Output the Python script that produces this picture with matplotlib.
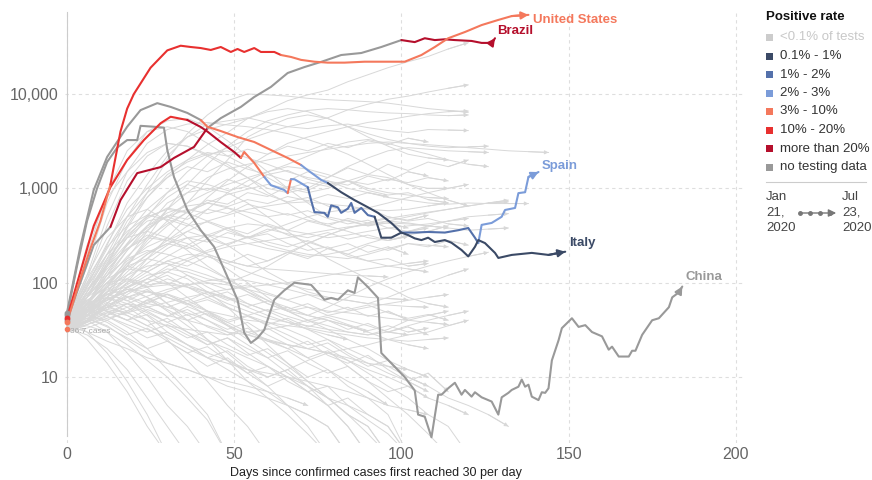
import matplotlib
matplotlib.use('Agg')
import matplotlib.pyplot as plt
from matplotlib.patches import Rectangle, FancyArrowPatch
from matplotlib.lines import Line2D
from matplotlib.ticker import FixedLocator, FuncFormatter, NullLocator

plt.rcParams['font.family'] = ['Liberation Sans', 'DejaVu Sans']

# legend categories
rate_labels = ['<0.1% of tests', '0.1% - 1%', '1% - 2%', '2% - 3%', '3% - 10%',
               '10% - 20%', 'more than 20%', 'no testing data']
rate_colors = ['#cccccc', '#3b4a66', '#5471ab', '#7b9cd9', '#f4785c',
               '#e8302f', '#b50f2c', '#999999']
rate_color = dict(zip(rate_labels, rate_colors))

# background countries, daily cases sampled every 6 days from day 0
bg_step = 6
bg_upper = [
    [32, 70, 180, 450, 800, 1300, 2000, 2900, 3900, 5500, 6800, 8500, 9800, 11000, 13500, 16000, 19000, 22000, 25000, 30000, 35000],
    [35, 60, 120, 260, 500, 900, 1500, 2200, 2700, 3300, 3900, 4500, 5000, 5600, 6800, 7800, 8800, 9500, 10500, 11500, 12500],
    [30, 55, 150, 400, 900, 2000, 3800, 6000, 8500, 10000, 9800, 9500, 9000, 8700, 8500, 8300, 8000, 7500, 7000, 6700, 6400],
    [38, 80, 200, 500, 1100, 2200, 3500, 4800, 5200, 5600, 5000, 4500, 4300, 4600, 4800, 4400, 4100, 3900, 4200, 4150, 4100],
    [40, 120, 500, 1500, 3000, 4200, 4800, 5000, 4700, 4500, 4200, 3800, 3300, 2800, 2300, 1800, 1400, 1100, 900, 750, 650],
    [33, 50, 90, 180, 350, 600, 900, 1300, 1600, 1800, 2000, 2200, 2400, 2600, 2800, 3000, 3100, 3000, 2900, 2800, 2700, 2600, 2500, 2450, 2400],
    [36, 90, 250, 700, 1400, 2500, 3500, 4200, 4800, 5500, 6500, 7000, 6500, 5500, 4500, 3800, 3300, 3000, 2800, 2700, 2750, 2800],
    [30, 45, 80, 150, 280, 450, 700, 900, 1100, 1300, 1500, 1800, 2200, 2700, 3100, 3300, 3000, 2600, 2300, 2000, 1800, 1700],
    [34, 70, 160, 380, 800, 1400, 1900, 2300, 2500, 2100, 1800, 1500, 1300, 1200, 1000, 900, 800, 750, 700, 680, 700, 690, 690, 690],
    [42, 150, 700, 2000, 4000, 5200, 5500, 4500, 3200, 2200, 1500, 1000, 700, 500, 450, 400, 450, 500, 550, 600, 650, 700, 750],
    [35, 110, 400, 1200, 2200, 3000, 2800, 2300, 1800, 1300, 900, 700, 500, 400, 350, 300, 280, 320, 350, 400],
    [31, 40, 70, 150, 300, 600, 1100, 1800, 2800, 4000, 5200, 6000, 6700, 7000, 6800, 6500, 6300, 6200, 6000, 5900, 6000],
    [40, 250, 800, 1500, 2400, 3000, 2800, 2200, 1700, 1300, 1000, 900, 1000, 1300, 1700, 2100, 2500, 2700, 2600, 2500, 2450, 2400],
    [38, 200, 900, 2500, 4000, 4500, 4000, 3000, 2200, 1700, 1300, 1000, 900, 1000, 1200, 1400, 1300, 1100, 1000, 1000],
    [30, 40, 60, 100, 180, 300, 500, 800, 1200, 1700, 2300, 3000, 3500, 4000, 4500, 5000, 5300, 5800, 6200, 6500, 6600],
    [32, 60, 130, 250, 400, 500, 700, 1200, 2000, 3500, 4500, 5500, 6000, 5500, 4500, 3500, 2800, 2300, 2100, 2000],
    [34, 70, 150, 300, 520, 800, 1100, 950, 1250, 1050, 1400, 1200, 1500, 1300, 1650, 1400, 1800, 1550, 1900, 1700, 2000],
    [38, 95, 230, 500, 900, 1300, 1700, 1500, 1900, 1600, 1400, 1550, 1250, 1100, 1200, 950, 850, 900, 760, 700],
    [40, 100, 260, 600, 1000, 1500, 2000, 2400, 2200, 2600, 2300, 2800, 2500, 3000, 2700, 3200, 2900, 3400, 3100],
]
bg_middle = [
    [35, 55, 90, 140, 200, 260, 300, 320, 300, 260, 230, 210, 190, 200, 220, 260, 300, 350, 400, 450, 500, 520, 540],
    [32, 45, 70, 120, 180, 250, 350, 450, 520, 600, 650, 700, 720, 680, 650, 600, 580, 600, 650, 700],
    [40, 80, 160, 300, 450, 500, 420, 320, 250, 180, 130, 100, 80, 70, 65, 60, 70, 85, 100, 120, 140],
    [36, 60, 110, 220, 400, 700, 900, 1000, 900, 700, 500, 350, 250, 180, 140, 110, 90, 70, 60, 55],
    [30, 40, 55, 80, 110, 150, 180, 220, 260, 300, 350, 420, 500, 560, 600, 620, 700, 800, 900, 1000, 1100],
    [38, 90, 200, 350, 500, 600, 550, 450, 380, 300, 250, 220, 200, 190, 180, 200, 230, 260, 250, 240],
    [33, 50, 80, 130, 200, 280, 400, 600, 900, 1200, 1500, 1700, 1600, 1400, 1200, 1000, 900, 850, 800, 780],
    [34, 45, 60, 90, 110, 140, 130, 110, 100, 120, 150, 200, 260, 320, 380, 420, 450, 430, 400, 380],
    [41, 120, 300, 500, 600, 450, 300, 200, 140, 100, 70, 50, 40, 35, 30, 28, 32, 40, 45, 50],
    [30, 38, 55, 75, 100, 130, 170, 210, 240, 260, 280, 300, 330, 360, 390, 410, 430, 420, 400, 380, 360, 370, 380],
    [37, 70, 130, 250, 400, 550, 650, 700, 620, 500, 400, 320, 270, 230, 200, 170, 150, 140, 130],
    [32, 60, 100, 170, 240, 300, 260, 200, 170, 150, 170, 210, 260, 320, 380, 430, 480, 520, 560, 600, 650, 700, 720],
    [44, 100, 200, 300, 350, 300, 220, 150, 110, 80, 60, 50, 45, 55, 70, 90, 110, 130, 150, 170, 190, 210],
    [35, 50, 70, 100, 140, 190, 250, 320, 380, 420, 400, 360, 330, 300, 320, 350, 380, 400, 420, 450, 480],
    [36, 60, 100, 150, 180, 160, 120, 90, 70, 55, 45, 38, 32, 28, 25],
    [33, 55, 85, 110, 100, 120, 90, 70, 80, 60, 50, 55, 45, 40, 35, 30],
    [31, 48, 75, 95, 130, 170, 200, 190, 160, 130, 110, 95, 85, 80, 75, 70, 68, 66],
    [38, 70, 120, 180, 220, 200, 170, 140, 110, 85, 65, 50, 40, 32, 25, 20, 15, 12, 10],
    [44, 85, 150, 230, 300, 280, 240, 200, 170, 150, 140, 135, 130, 125, 120, 118, 115],
    [37, 58, 80, 105, 90, 110, 95, 80, 65, 75, 60, 50, 55, 45, 40, 35, 30, 28],
    [36, 75, 140, 230, 320, 280, 350, 300, 380, 330, 420, 360, 450, 400, 480, 430, 500, 460, 520],
    [33, 52, 95, 160, 210, 260, 230, 290, 250, 310, 270, 240, 280, 230, 260, 210, 240, 200],
    [39, 90, 180, 320, 480, 620, 560, 700, 640, 760, 690, 820, 740, 860, 780, 900, 820],
    [35, 60, 110, 190, 300, 420, 560, 700, 860, 980, 1100, 1000, 1150, 1050, 1200, 1100, 1250, 1150, 1300, 1200],
    [31, 44, 70, 110, 160, 230, 300, 270, 340, 300, 370, 330, 300, 340, 290, 320, 280, 310],
    [42, 110, 240, 400, 520, 470, 400, 440, 360, 300, 330, 260, 220, 240, 190, 170, 180, 150, 160],
    [34, 58, 100, 150, 130, 170, 150, 190, 160, 200, 170, 210, 180, 230, 200, 250, 220, 260, 240, 280, 250],
    [37, 80, 150, 260, 380, 500, 600, 540, 620, 560, 500, 540, 460, 420, 460, 400, 430, 380],
    [31, 50, 90, 160, 260, 400, 560, 750, 680, 900, 820, 1050, 950, 1200, 1080, 1350, 1200, 1500, 1350],
    [36, 80, 170, 330, 600, 900, 1200, 1100, 950, 1050, 850, 720, 800, 650, 560, 620, 500, 450, 480, 420, 400],
    [33, 60, 120, 220, 360, 520, 470, 600, 540, 680, 600, 520, 580, 480, 420, 460, 380, 350, 380],
]
bg_lower = [
    [40, 60, 70, 55, 40, 25, 15, 9, 5, 3, 1.5],
    [35, 50, 80, 90, 70, 50, 35, 25, 18, 12, 8, 5, 3, 1.5],
    [32, 45, 55, 60, 55, 45, 40, 35, 30, 28, 25, 22, 20, 18, 15, 12, 10, 8, 6, 5, 4],
    [38, 45, 40, 30, 20, 12, 7, 4, 1.5],
    [30, 40, 60, 90, 120, 130, 110, 80, 55, 35, 22, 14, 9, 6, 4, 3, 1.5],
    [36, 55, 75, 85, 80, 70, 60, 50, 45, 40, 38, 35, 33, 30, 28, 26, 25, 24, 25, 26],
    [33, 40, 50, 45, 35, 28, 22, 18, 15, 12, 10, 12, 15, 18, 20, 22, 25, 28, 30, 35, 40],
    [42, 70, 100, 110, 90, 60, 40, 25, 15, 9, 6, 4, 2.5, 1.5],
    [31, 35, 30, 22, 15, 10, 6, 3.5, 1.5],
    [37, 48, 65, 80, 95, 100, 90, 75, 60, 50, 42, 38, 35, 32, 30, 28, 30, 35, 40, 45, 50],
    [34, 50, 70, 60, 45, 30, 22, 16, 12, 9, 7, 5, 4, 3, 1.5],
    [39, 65, 90, 120, 150, 160, 140, 120, 100, 80, 65, 55, 45, 40, 35, 30, 25, 22, 20],
    [30, 33, 40, 50, 65, 80, 95, 100, 95, 85, 75, 65, 55, 50, 48, 45, 42, 40, 38, 36],
    [35, 42, 35, 25, 18, 14, 12, 10, 8, 7, 6, 5, 4, 3, 1.5],
    [40, 55, 50, 40, 32, 26, 20, 16, 14, 12, 11, 10, 9, 8, 7, 6, 5, 4.5, 4],
    [33, 38, 45, 55, 60, 55, 48, 40, 30, 22, 16, 11, 8, 5, 3, 1.5],
    [36, 44, 52, 48, 40, 35, 32, 30, 28, 30, 32, 35, 40, 45, 50, 55, 60, 65, 70, 75],
    [31, 40, 55, 70, 80, 75, 60, 45, 35, 28, 24, 22, 20, 18, 16, 14, 13, 12],
    [43, 60, 75, 65, 50, 38, 30, 24, 20, 16, 13, 10, 8, 6, 5, 4, 3, 1.5],
    [34, 40, 30, 18, 10, 5, 3, 1.5],
    [38, 52, 68, 80, 90, 95, 90, 80, 70, 60, 50, 40, 32, 25, 20, 16, 13, 10, 8, 6, 5, 4, 3],
    [32, 36, 42, 48, 55, 62, 70, 78, 85, 90, 95, 100, 110, 120, 130, 140, 150, 160, 170],
    [41, 75, 110, 140, 130, 100, 70, 50, 35, 25, 18, 13, 9, 6, 4, 2.5, 1.5],
    [35, 30, 24, 20, 16, 14, 12, 10, 9, 8, 7, 6, 5],
    [30, 38, 48, 60, 72, 85, 95, 105, 110, 105, 95, 85, 75, 70, 65, 60, 58, 56, 55],
    [40, 65, 90, 70, 85, 60, 45, 50, 38, 30, 25, 20, 16, 12, 9, 7, 5],
    [35, 42, 55, 48, 62, 75, 60, 70, 55, 45, 38, 32, 26, 20, 15, 11, 8, 6, 4, 3, 1.5],
    [32, 40, 58, 45, 35, 42, 30, 22, 26, 18, 13, 10, 7, 5, 3, 1.5],
    [34, 50, 65, 85, 70, 55, 65, 50, 40, 45, 35, 28, 22, 25, 18, 14, 11, 9, 7],
    [38, 55, 45, 60, 48, 38, 46, 34, 28, 33, 24, 20, 24, 17, 14, 17, 12, 9, 11, 7],
    [33, 48, 62, 50, 66, 52, 40, 48, 36, 28, 33, 25, 20, 23, 17, 13, 15, 10, 8],
    [41, 64, 52, 70, 56, 44, 52, 40, 32, 38, 28, 22, 16, 19, 13, 9, 6, 4, 2.5, 1.5],
    [30, 36, 44, 36, 30, 36, 28, 22, 26, 20, 16, 19, 14, 11, 13, 9, 7, 8, 6],
    [35, 46, 38, 28, 33, 24, 18, 21, 15, 11, 13, 9, 7, 8, 5, 3.5, 2.5, 1.5],
    [39, 58, 78, 64, 82, 70, 58, 66, 54, 45, 52, 44, 38, 43, 36, 31, 35, 30, 33],
    [32, 42, 34, 26, 20, 24, 18, 13, 16, 11, 8, 10, 7, 5, 6, 4, 3, 1.5],
    [36, 50, 66, 88, 110, 96, 120, 100, 84, 95, 78, 66, 75, 62, 52, 58, 48, 42, 46, 40],
    [43, 62, 50, 40, 46, 34, 26, 30, 22, 17, 20, 14, 10, 12, 8, 6, 4, 1.5],
    [31, 39, 48, 40, 52, 44, 56, 46, 38, 44, 36, 42, 34, 40, 32, 37, 30, 34, 28],
    [37, 52, 44, 34, 26, 30, 22, 16, 19, 13, 10, 12, 8, 6, 4, 3, 1.5],
    [34, 46, 58, 72, 60, 76, 64, 80, 68, 56, 64, 52, 60, 48, 55, 44, 50, 40],
    [36, 25, 14, 7, 3, 1.5],
    [40, 30, 18, 9, 4, 1.5],
    [33, 28, 20, 12, 6, 3, 1.5],
]

# highlighted countries: day, 7-day average, and positive-rate bands (start day, band)
us_days = [0, 4, 7, 10, 13, 14, 16, 18, 20, 25, 30, 34, 37, 40, 43, 46, 49, 51, 53, 56,
           58, 62, 64, 67, 70, 74, 78, 83, 89, 94, 101, 106, 110, 114, 119, 124, 129, 133, 138]
us_vals = [38, 110, 230, 450, 1100, 1700, 4000, 7000, 10000, 19000, 29000, 32500, 31500, 30700,
           29300, 31500, 27900, 30000, 27900, 30700, 27900, 27900, 25900, 24700, 23000, 22000,
           21500, 21500, 22000, 22000, 22000, 25900, 31500, 39000, 45400, 53800, 61000, 67000, 69000]
us_rates = [(0, '3% - 10%'), (13, '10% - 20%'), (64, '3% - 10%')]

brazil_days = [0, 4, 8, 13, 16, 21, 28, 32, 38, 42, 46, 52, 56, 61, 66, 71, 76, 82, 88, 94,
               100, 104, 107, 110, 113, 116, 121, 124, 127, 128]
brazil_vals = [40, 100, 250, 390, 750, 1450, 1680, 2100, 2750, 4360, 5550, 7300, 9300, 11900,
               16700, 19300, 21900, 25900, 27200, 31500, 37300, 35500, 39000, 37300, 38000,
               37300, 36500, 34800, 34800, 39000]
brazil_rates = [(0, 'no testing data'), (13, 'more than 20%'), (42, 'no testing data'),
                (100, 'more than 20%')]

italy_days = [0, 4, 8, 13, 18, 23, 28, 31, 36, 40, 42, 46, 50, 52, 53, 56, 59, 61, 65, 66,
              67, 68, 72, 73, 74, 77, 78, 79, 81, 82, 84, 85, 86, 88, 90, 92, 93, 94, 97, 100,
              102, 104, 106, 108, 110, 113, 115, 118, 120, 122, 123, 125, 128, 129, 133, 139, 144, 149]
italy_vals = [42, 130, 400, 1030, 2000, 3250, 4900, 5740, 5300, 4470, 4000, 3090, 2430, 2100,
              2430, 1860, 1320, 1080, 960, 890, 1250, 1250, 1030, 750, 560, 550, 500, 660, 630,
              550, 610, 700, 550, 620, 520, 500, 390, 300, 300, 340, 320, 295, 283, 300, 270,
              283, 265, 222, 190, 240, 283, 263, 207, 183, 197, 207, 197, 213]
italy_rates = [(0, '10% - 20%'), (36, 'more than 20%'), (52, '3% - 10%'), (59, '2% - 3%'),
               (66, '3% - 10%'), (67, '2% - 3%'), (72, '1% - 2%'), (92, '0.1% - 1%')]

spain_days = [0, 4, 8, 12, 18, 22, 27, 31, 36, 40, 42, 46, 51, 56, 61, 66, 70, 72, 76, 78,
              82, 86, 90, 93, 97, 100, 104, 108, 113, 117, 120, 122, 123, 124, 127, 130, 131,
              134, 135, 137, 138, 141]
spain_vals = [48, 240, 960, 2150, 4500, 6750, 8000, 7300, 6300, 5300, 4500, 4050, 3500, 3100,
              2550, 2100, 1770, 1560, 1230, 1140, 910, 750, 630, 550, 430, 340, 340, 345, 340,
              360, 380, 300, 263, 410, 430, 500, 590, 620, 890, 910, 1320, 1490]
spain_rates = [(0, 'no testing data'), (40, '3% - 10%'), (70, '2% - 3%'), (78, '0.1% - 1%'),
               (100, '1% - 2%'), (123, '2% - 3%')]

china_days = [0, 3, 6, 9, 12, 15, 18, 21, 22, 26, 29, 30, 32, 36, 40, 44, 48, 51, 53, 55,
              57, 59, 62, 65, 68, 73, 77, 79, 81, 84, 86, 87, 90, 93, 94, 97, 101, 104, 105, 107,
              109, 111, 112, 114, 116, 118, 119, 121, 122, 124, 127, 129, 130, 132, 133, 135, 136,
              137, 138, 139, 141, 142, 143, 144, 145, 147, 148, 151, 153, 155, 157, 160, 162, 163,
              165, 168, 169, 170, 172, 175, 177, 180, 181, 183, 184]
china_vals = [45, 150, 450, 1000, 1900, 2700, 3250, 3250, 4600, 4500, 4400, 2550, 1320, 590,
              360, 240, 115, 66, 29.5, 23, 26, 31.6, 66, 83, 100, 95, 66, 69, 66, 83, 78, 114,
              90, 69, 18, 14, 10, 7.2, 4.0, 3.8, 2.3, 6.5, 6.5, 7.6, 8.7, 6.5, 7.3, 6.2, 6.9,
              6.1, 5.5, 4.0, 6.1, 6.8, 7.3, 7.9, 9.4, 7.9, 8.3, 6.2, 5.7, 6.9, 6.8, 7.6, 15,
              24.5, 33, 42, 34, 35.5, 30, 27, 19.5, 21, 16.5, 16.5, 19, 19, 28, 40, 42, 55, 70,
              79, 91]
china_rates = [(0, 'no testing data')]

countries = [
    ('China', china_days, china_vals, china_rates, (3, 10)),
    ('Brazil', brazil_days, brazil_vals, brazil_rates, (2, 7)),
    ('Spain', spain_days, spain_vals, spain_rates, (3, 6)),
    ('Italy', italy_days, italy_vals, italy_rates, (4, 9)),
    ('United States', us_days, us_vals, us_rates, (5, -5)),
]

W, H = 872, 480
fig = plt.figure(figsize=(W / 100, H / 100), dpi=100)
ax = fig.add_axes([65.3 / W, 37 / H, 679.5 / W, 431 / H])
ax.set_yscale('log')
ax.set_xlim(-0.5, 202.7)
ax.set_ylim(2.0, 74000)


def arrow(x0, y0, x1, y1, color, lw, hl, hw, z):
    ax.annotate('', xy=(x1, y1), xytext=(x0, y0), zorder=z,
                arrowprops=dict(arrowstyle=f'-|>,head_length={hl},head_width={hw}',
                                color=color, lw=lw, shrinkA=0, shrinkB=0))


bg_col = '#d8d8d8'
for vals in bg_upper + bg_middle + bg_lower:
    days = [i * bg_step for i in range(len(vals))]
    ax.plot(days, vals, color=bg_col, lw=0.7, zorder=1)
    if vals[-1] > 2.2:
        arrow(days[-2], vals[-2], days[-1], vals[-1], bg_col, 0.7, 0.22, 0.11, 1)

for name, days, vals, rates, off in countries:
    bounds = [r[0] for r in rates] + [days[-1]]
    for (start, lab), end in zip(rates, bounds[1:]):
        xs = [d for d in days if start <= d <= end]
        ys = [v for d, v in zip(days, vals) if start <= d <= end]
        ax.plot(xs, ys, color=rate_color[lab], lw=1.5, zorder=3,
                solid_joinstyle='round', solid_capstyle='round')
    first = rate_color[rates[0][1]]
    last = rate_color[rates[-1][1]]
    ax.plot(days[0], vals[0], 'o', ms=3.2, color=first, zorder=4, clip_on=False)
    arrow(days[-2], vals[-2], days[-1], vals[-1], last, 1.5, 0.42, 0.22, 4)
    ax.annotate(name, (days[-1], vals[-1]), xytext=off, textcoords='offset pixels',
                color=last, fontsize=9.5, fontweight='bold', ha='left', va='center', zorder=5)

# hovered start point
ax.plot(0, 32, 'o', ms=3, color='#f4785c', zorder=5, clip_on=False)
ax.annotate('36.7 cases', (0, 32), xytext=(3, -2), textcoords='offset pixels',
            fontsize=6, color='#aaaaaa', va='center', ha='left', zorder=5)

# axes styling
ax.xaxis.set_major_locator(FixedLocator([0, 50, 100, 150, 200]))
ax.yaxis.set_major_locator(FixedLocator([10, 100, 1000, 10000]))
ax.yaxis.set_minor_locator(NullLocator())
ax.yaxis.set_major_formatter(FuncFormatter(lambda v, p: f'{v:,.0f}'))
ax.tick_params(axis='both', length=0, labelsize=11.5, labelcolor='#666666')
ax.tick_params(axis='x', pad=3)
ax.tick_params(axis='y', pad=6)
ax.grid(True, color='#dedede', lw=0.8, ls=(0, (3, 3)), zorder=0)
for s in ['top', 'right', 'bottom']:
    ax.spines[s].set_visible(False)
ax.spines['left'].set_position(('data', 0))
ax.spines['left'].set_color('#cccccc')
ax.spines['left'].set_bounds(2.4, 74000)
ax.set_axisbelow(True)


def fx(x):
    return x / W


def fy(y):
    return 1 - y / H


fig.text(fx(376), fy(476), 'Days since confirmed cases first reached 30 per day',
         ha='center', va='baseline', fontsize=9, color='#222222')

# legend
fig.text(fx(766), fy(17), 'Positive rate', fontsize=9.5, fontweight='bold', va='center',
         ha='left', color='#111111')
for i, (lab, col) in enumerate(zip(rate_labels, rate_colors)):
    y = 37.5 + i * 18.5
    fig.add_artist(Rectangle((fx(766), fy(y + 3.5)), 7 / W, 7 / H, transform=fig.transFigure,
                             color=col, lw=0))
    fig.text(fx(780), fy(y), lab, fontsize=9.5, va='center', ha='left',
             color='#c8c8c8' if i == 0 else '#333333')
fig.add_artist(Line2D([fx(766), fx(866)], [fy(182), fy(182)], color='#cccccc', lw=0.8))
for i, (a, b) in enumerate(zip(['Jan', '21,', '2020'], ['Jul', '23,', '2020'])):
    fig.text(fx(766), fy(197 + 15.5 * i), a, fontsize=9.5, va='center', ha='left', color='#444444')
    fig.text(fx(842), fy(197 + 15.5 * i), b, fontsize=9.5, va='center', ha='left', color='#444444')
fig.add_artist(FancyArrowPatch((fx(798), fy(213)), (fx(839), fy(213)), transform=fig.transFigure,
                               arrowstyle='-|>,head_length=0.45,head_width=0.22', mutation_scale=10,
                               color='#777777', lw=1))
fig.add_artist(Line2D([fx(800), fx(810), fx(820), fx(830)], [fy(213)] * 4, ls='none',
                      marker='o', ms=2.5, color='#777777'))

fig.savefig('out.png', dpi=100)
